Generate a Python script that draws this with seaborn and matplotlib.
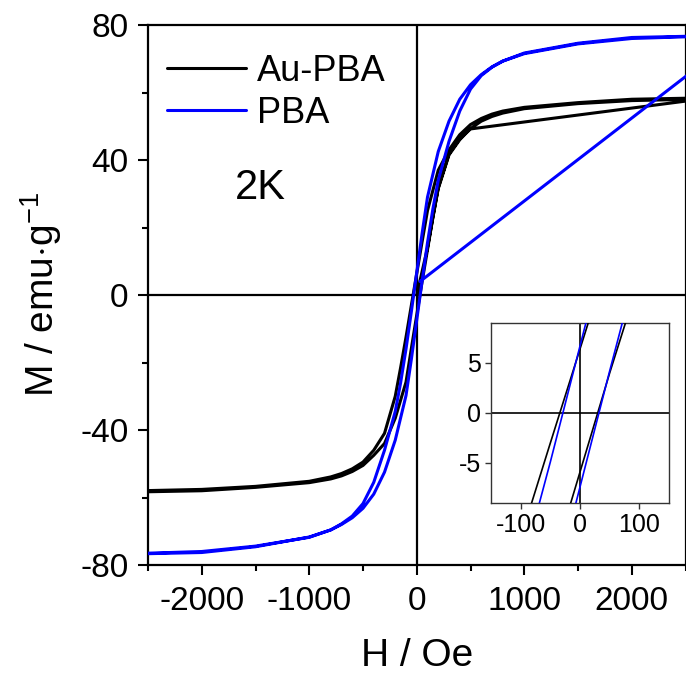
import numpy as np
import pandas as pd
import matplotlib
matplotlib.use("Agg")
import matplotlib.pyplot as plt
import seaborn as sns

# ---------------- magnetisation data (H in Oe, M in emu/g) ----------------
# Au-PBA
h_virgin_au = [0, 100, 200, 300, 400, 500, 3000]
m_virgin_au = [0.0, 14.0, 31.8, 41.8, 46.3, 49.2, 59.5]

h_down_au = [3000, 2000, 1500, 1000, 800, 700, 600, 500, 400, 300, 200, 100, 50,
             0, -50, -100, -150, -200, -300, -400, -500, -600, -700, -800,
             -1000, -1500, -2000, -3000]
m_down_au = [58.6, 58.0, 57.0, 55.6, 54.5, 53.6, 52.3, 50.5, 47.5, 43.0, 37.0,
             25.0, 15.8, 6.4, -3.0, -12.5, -21.5, -30.0, -41.0, -46.0, -49.5,
             -51.5, -52.9, -53.9, -55.2, -56.7, -57.6, -58.3]

h_up_au = [-3000, -2000, -1500, -1000, -800, -700, -600, -500, -400, -300, -200,
           -100, -50, 0, 50, 100, 150, 200, 300, 400, 500, 600, 700, 800, 1000,
           1500, 2000, 3000]
m_up_au = [-58.6, -58.0, -57.0, -55.6, -54.5, -53.6, -52.3, -50.5, -47.5, -44.0,
           -36.5, -25.8, -15.8, -5.9, 4.0, 13.4, 23.0, 31.5, 41.5, 46.0, 49.3,
           51.5, 52.9, 53.9, 55.2, 56.7, 57.6, 58.3]

# PBA
h_virgin_pba = [30, 3000]
m_virgin_pba = [4.0, 77.0]

h_down_pba = [3000, 2000, 1500, 1000, 800, 700, 600, 500, 400, 300, 200, 100, 50,
              0, -50, -100, -150, -200, -300, -400, -500, -600, -700, -800,
              -1000, -1500, -2000, -3000]
m_down_pba = [77.0, 76.3, 74.6, 71.7, 69.3, 67.6, 65.3, 62.3, 58.0, 51.5, 42.5,
              29.0, 18.3, 6.7, -4.9, -16.0, -26.0, -34.5, -46.0, -55.5, -61.8,
              -65.5, -67.8, -69.6, -71.8, -74.4, -76.0, -77.0]

h_up_pba = [-3000, -2000, -1500, -1000, -800, -700, -600, -500, -400, -300, -200,
            -100, -50, 0, 50, 100, 150, 200, 300, 400, 500, 600, 700, 800, 1000,
            1500, 2000, 3000]
m_up_pba = [-77.0, -76.3, -74.6, -71.7, -69.6, -68.0, -66.0, -63.2, -59.0, -52.5,
            -43.0, -29.8, -19.0, -7.4, 4.2, 15.5, 25.5, 34.0, 45.5, 54.5, 61.0,
            65.0, 67.5, 69.3, 71.5, 74.4, 76.0, 77.0]

samples = ["Au-PBA", "PBA"]
colors = {"Au-PBA": "black", "PBA": "#0000ff"}
temperature_label = "2K"

x_ticks = [-2000, -1000, 0, 1000, 2000]
y_ticks = [-80, -40, 0, 40, 80]
inset_x_ticks = [-100, 0, 100]
inset_y_ticks = [-5, 0, 5]


def branch_frame(h, m, sample, branch):
    return pd.DataFrame({"H": h, "M": m, "sample": sample, "branch": branch})


frames = [
    branch_frame(h_virgin_au, m_virgin_au, "Au-PBA", "virgin"),
    branch_frame(h_down_au, m_down_au, "Au-PBA", "down"),
    branch_frame(h_up_au, m_up_au, "Au-PBA", "up"),
    branch_frame(h_virgin_pba, m_virgin_pba, "PBA", "virgin"),
    branch_frame(h_down_pba, m_down_pba, "PBA", "down"),
    branch_frame(h_up_pba, m_up_pba, "PBA", "up"),
]
df = pd.concat(frames, ignore_index=True)

# ---------------- style ----------------
sns.set_style("ticks")
plt.rcParams["font.family"] = ["Liberation Sans", "DejaVu Sans"]
plt.rcParams["mathtext.fontset"] = "custom"
plt.rcParams["mathtext.rm"] = "Liberation Sans"
plt.rcParams["mathtext.it"] = "Liberation Sans"
plt.rcParams["axes.unicode_minus"] = False
plt.rcParams["text.color"] = "black"
plt.rcParams["axes.labelcolor"] = "black"
plt.rcParams["xtick.color"] = "black"
plt.rcParams["ytick.color"] = "black"

W, H = 686, 673
fig = plt.figure(figsize=(W / 100, H / 100), dpi=100)
ax = fig.add_axes([148 / W, 1 - 565 / H, 537.5 / W, 540 / H])

# zero lines
ax.axhline(0, color="black", lw=1.6, zorder=1)
ax.axvline(0, color="black", lw=1.6, zorder=1)

# full measurement path per sample: virgin curve then the loop
for s in samples:
    sub = df[df["sample"] == s]
    sns.lineplot(data=sub, x="H", y="M", sort=False, estimator=None,
                 color=colors[s], lw=2.2, ax=ax, label=s, zorder=3)

ax.set_xlim(-2500, 2500)
ax.set_ylim(-80, 80)
ax.set_xticks(x_ticks)
ax.set_yticks(y_ticks)
ax.set_xticks(np.arange(-2500, 2501, 500), minor=True)
ax.set_yticks(np.arange(-80, 81, 20), minor=True)
ax.tick_params(which="major", direction="out", length=7, width=1.5,
               labelsize=24, color="black", labelcolor="black")
ax.tick_params(which="minor", direction="out", length=4, width=1.5,
               color="black")
ax.tick_params(axis="y", which="major", pad=7)
ax.tick_params(axis="x", which="major", pad=8)
for sp in ax.spines.values():
    sp.set_linewidth(1.6)
    sp.set_color("black")

ax.set_xlabel("H / Oe", fontsize=28, labelpad=15, color="black")
ax.set_ylabel(r"M / emu$\cdot$g$^{\mathregular{-1}}$", fontsize=28,
              labelpad=12, color="black")

leg = ax.legend(loc="upper left", bbox_to_anchor=(0.035, 0.947), frameon=False,
                fontsize=26, handlelength=2.2, handletextpad=0.3,
                labelspacing=0.2, borderpad=0, borderaxespad=0)
for line in leg.get_lines():
    line.set_linewidth(2.2)
for t in leg.get_texts():
    t.set_color("black")

ax.text(0.162, 0.698, temperature_label, transform=ax.transAxes,
        fontsize=30, ha="left", va="center", color="black")

# ---------------- inset: loop near the origin ----------------
axin = fig.add_axes([491 / W, 1 - 503 / H, 178 / W, 180 / H])
axin.axhline(0, color="black", lw=1.2, zorder=1)
axin.axvline(0, color="black", lw=1.2, zorder=1)
loop = df[df["branch"] != "virgin"]
for s in samples:
    for b in ["down", "up"]:
        sub = loop[(loop["sample"] == s) & (loop["branch"] == b)]
        sns.lineplot(data=sub, x="H", y="M", sort=False, estimator=None,
                     color=colors[s], lw=1.2, ax=axin, legend=False, zorder=3)
axin.set_xlim(-150, 150)
axin.set_ylim(-9, 9)
axin.set_xticks(inset_x_ticks)
axin.set_yticks(inset_y_ticks)
axin.set_xlabel("")
axin.set_ylabel("")
axin.tick_params(direction="out", length=4, width=1, labelsize=18,
                 color="#333333", labelcolor="black", pad=3)
for sp in axin.spines.values():
    sp.set_linewidth(1.0)
    sp.set_color("#333333")

fig.savefig("out.png", dpi=100)
